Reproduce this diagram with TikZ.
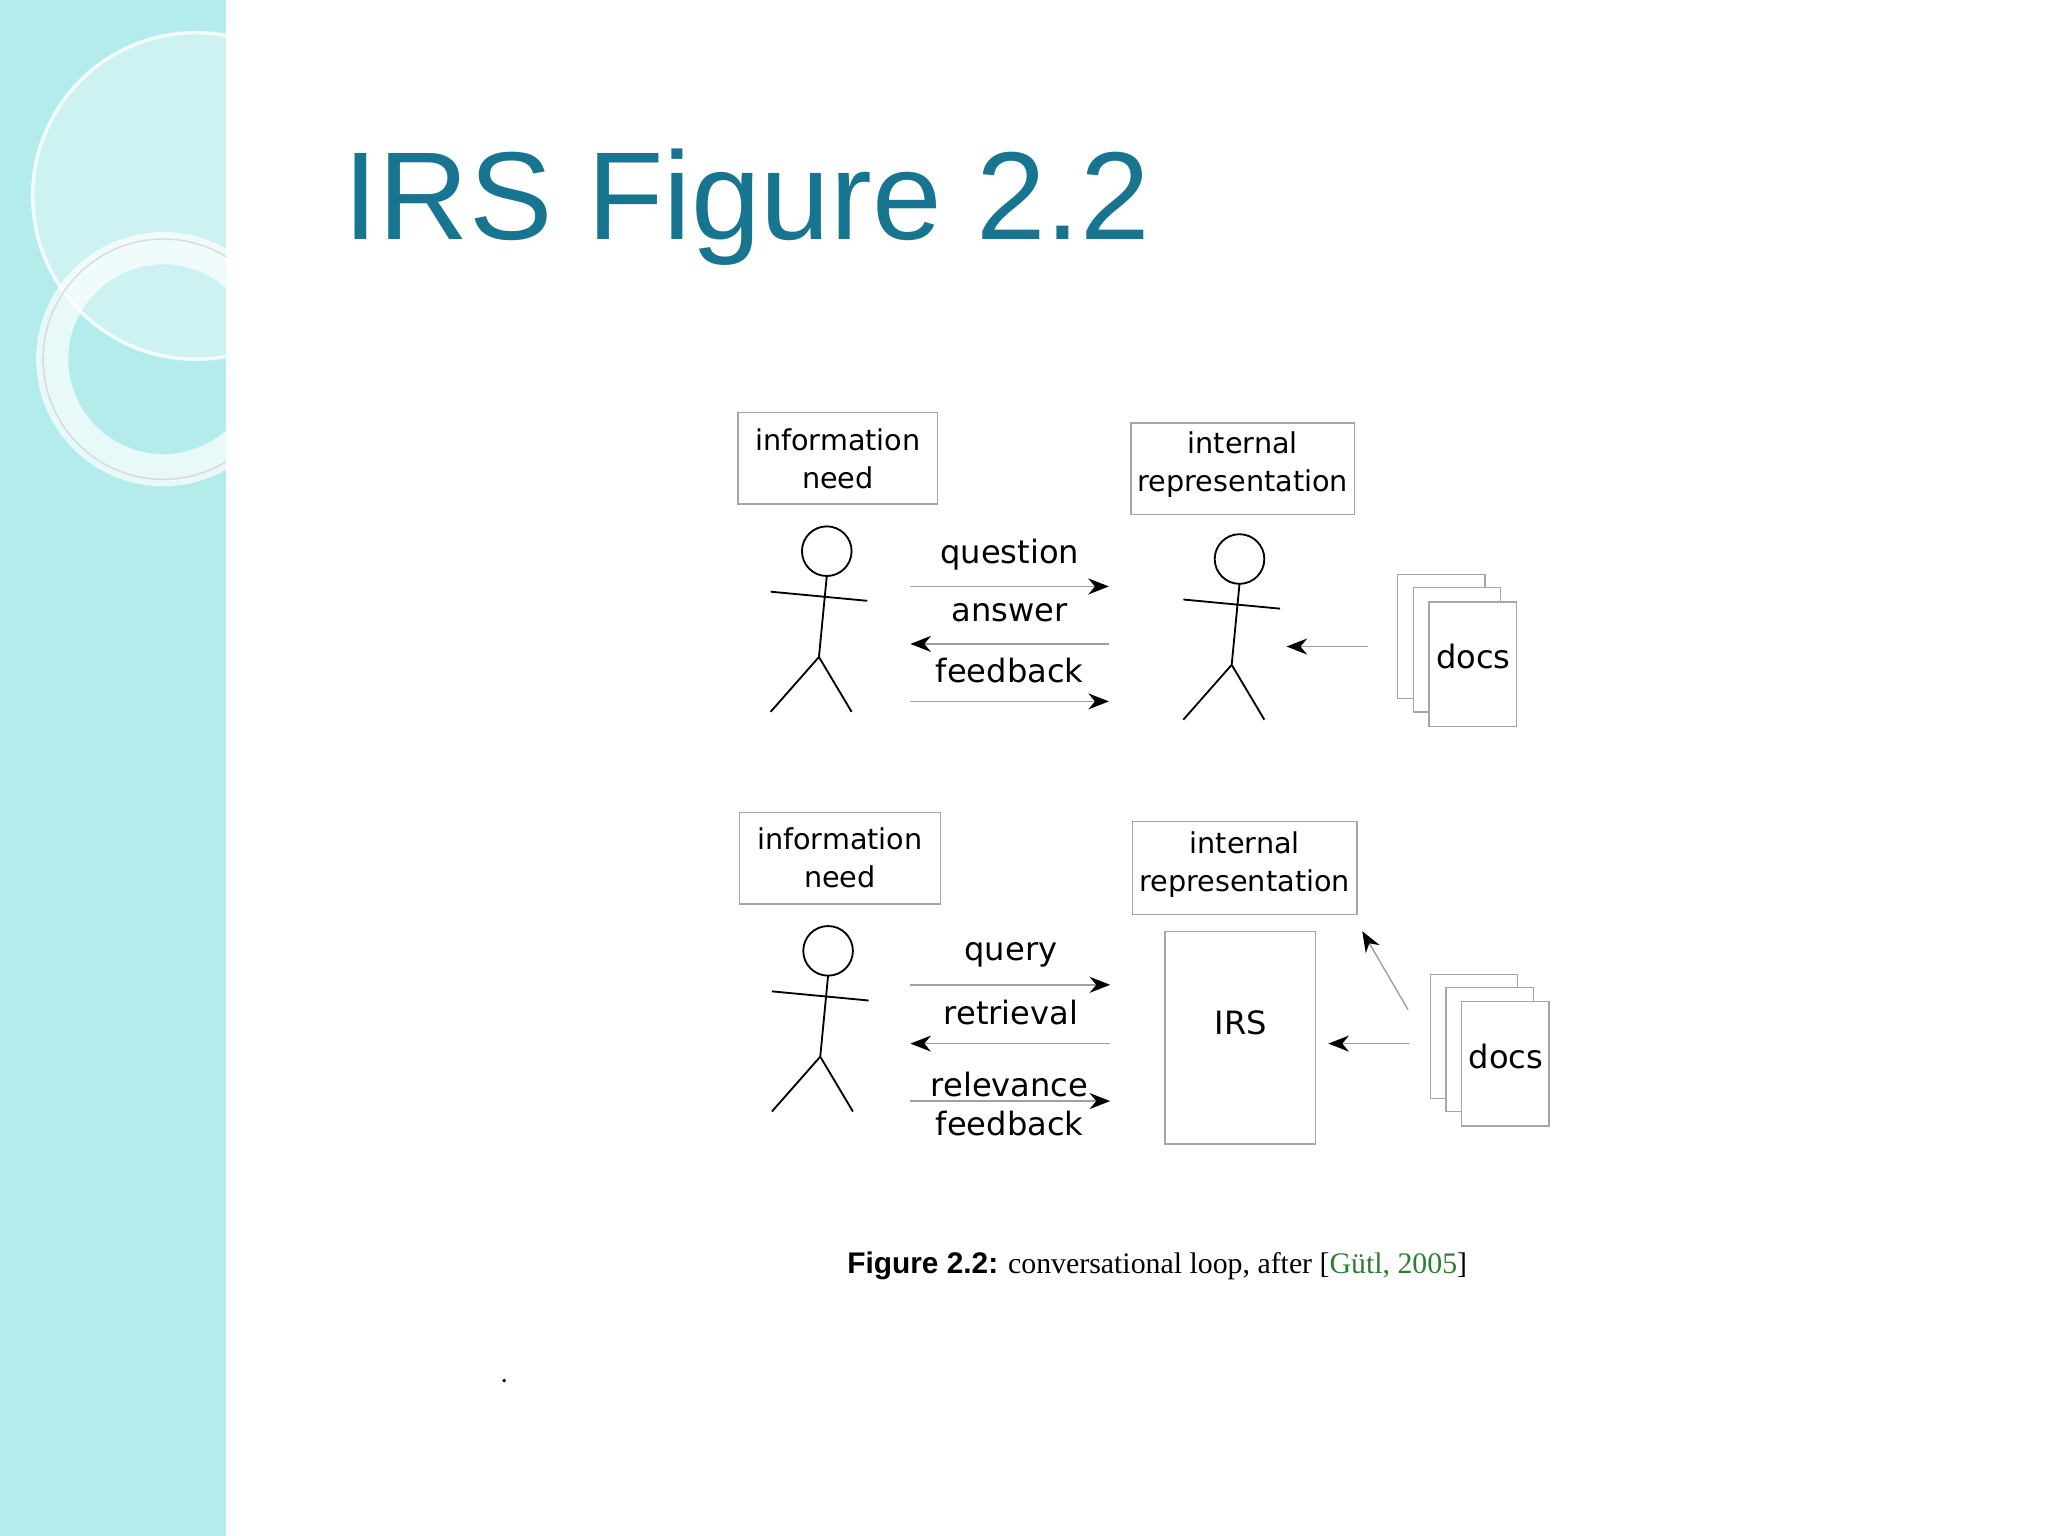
\documentclass[tikz,border=0pt]{standalone}
\usepackage{fontspec}
\setmainfont{Liberation Serif}
\newfontfamily\titlefont{Liberation Sans}
\newfontfamily\dfont{DejaVu Sans}
\usetikzlibrary{arrows.meta}
\definecolor{strip}{HTML}{B4ECEC}
\definecolor{ttl}{HTML}{17758F}
\definecolor{cgreen}{HTML}{2E7D32}
\begin{document}
\begin{tikzpicture}[x=0.02cm,y=-0.02cm,
  lbl/.style={align=center,font=\dfont\fontsize{12.5}{16.5}\selectfont,inner sep=0pt},
  txt/.style={font=\dfont\fontsize{14}{17}\selectfont,inner sep=0pt},
  flow/.style={draw=gray!75,line width=0.6pt,-{Stealth[black,length=9pt,width=7pt]}},
  page/.style={draw=gray!70,fill=white,line width=0.6pt},
  frame/.style={draw=gray!70,line width=0.6pt},
  stick/.style={line width=0.8pt,black}]
\useasboundingbox (0,0) rectangle (1568,1176);
\fill[white] (0,0) rectangle (1568,1176);
\fill[strip] (0,0) rectangle (173,1176);
\begin{scope}
\clip (0,0) rectangle (173,1176);
\fill[white,opacity=0.35] (150,150) circle (125);
\draw[white,opacity=0.8,line width=1.5pt] (150,150) circle (125);
\draw[white,opacity=0.7,line width=14pt] (125,275) circle (85);
\draw[gray!30,line width=0.6pt] (125,275) circle (92);
\end{scope}
\node[anchor=base west,text=ttl,font=\titlefont\fontsize{54.5}{60}\selectfont,inner sep=0pt] (title) at (263,183) {IRS Figure 2.2};
\newcommand\stickman[2]{%
 \begin{scope}[shift={(#1,#2)}]
 \draw[stick] (0,0) circle (19);
 \draw[stick] (0,19) -- (-6,81) -- (-43,123) (-6,81) -- (19,123) (-43,31) -- (31,38);
 \end{scope}}
% top
\node[lbl] (in1) at (641.5,351) {information\\need};
\node[lbl] (ir1) at (951.5,356) {internal\\representation};
\draw[frame] (565,316) rectangle (718,386) (866,324) rectangle (1037,394);
\stickman{633}{422}
\stickman{949}{428}
\node[txt] (q) at (773,425) {question};
\node[txt] (a) at (773,469) {answer};
\node[txt] (f) at (773,513) {feedback};
\coordinate (a1s) at (697,449); \coordinate (a1e) at (849,449);
\coordinate (a2s) at (849,493); \coordinate (a2e) at (697,493);
\coordinate (a3s) at (697,537); \coordinate (a3e) at (849,537);
\draw[flow] (a1s) -- (a1e); \draw[flow] (a2s) -- (a2e); \draw[flow] (a3s) -- (a3e);
\draw[page] (1070,440) rectangle (1137,535);
\draw[page] (1082,450) rectangle (1149,545);
\draw[page] (1094,461) rectangle (1161,556);
\node[txt] (d1) at (1128,503) {docs};
\coordinate (d1s) at (1047,495); \coordinate (d1e) at (985,495);
\draw[flow] (d1s) -- (d1e);
% bottom
\node[lbl] (in2) at (643,657) {information\\need};
\node[lbl] (ir2) at (953,662) {internal\\representation};
\draw[frame] (566,622) rectangle (720,692) (867,629) rectangle (1039,700);
\stickman{634}{728}
\node[frame,minimum width=2.3cm,minimum height=3.26cm,inner sep=0pt] (irs) at (949.5,794.5) {};
\node[txt] at (950,783) {IRS};
\node[txt] (qu) at (774,731) {query};
\node[txt] (re) at (774,775) {retrieval};
\node[txt,align=center,font=\dfont\fontsize{14}{17}\selectfont] (rf) at (773,845) {relevance\\feedback};
\coordinate (b1s) at (697,754); \coordinate (b1e) at (850,754);
\coordinate (b2s) at (850,799); \coordinate (b2e) at (697,799);
\coordinate (b3s) at (697,843); \coordinate (b3e) at (850,843);
\draw[flow] (b1s) -- (b1e); \draw[flow] (b2s) -- (b2e); \draw[flow] (b3s) -- (b3e);
\draw[page] (1095,746) rectangle (1162,841);
\draw[page] (1107,756) rectangle (1174,851);
\draw[page] (1119,767) rectangle (1186,862);
\node[txt] (d2) at (1153,809) {docs};
\coordinate (d2s) at (1079,799); \coordinate (d2e) at (1017,799);
\coordinate (d3s) at (1078,773); \coordinate (d3e) at (1043,713);
\draw[flow] (d2s) -- (d2e); \draw[flow] (d3s) -- (d3e);
% caption
\node[anchor=base,inner sep=0pt,font=\fontsize{13}{15}\selectfont] (cap) at (886,975)
 {{\titlefont\bfseries Figure 2.2:} conversational loop, after [\textcolor{cgreen}{Gütl, 2005}]};
\fill[black] (386,1057) circle (1.5);
\end{tikzpicture}
\end{document}
